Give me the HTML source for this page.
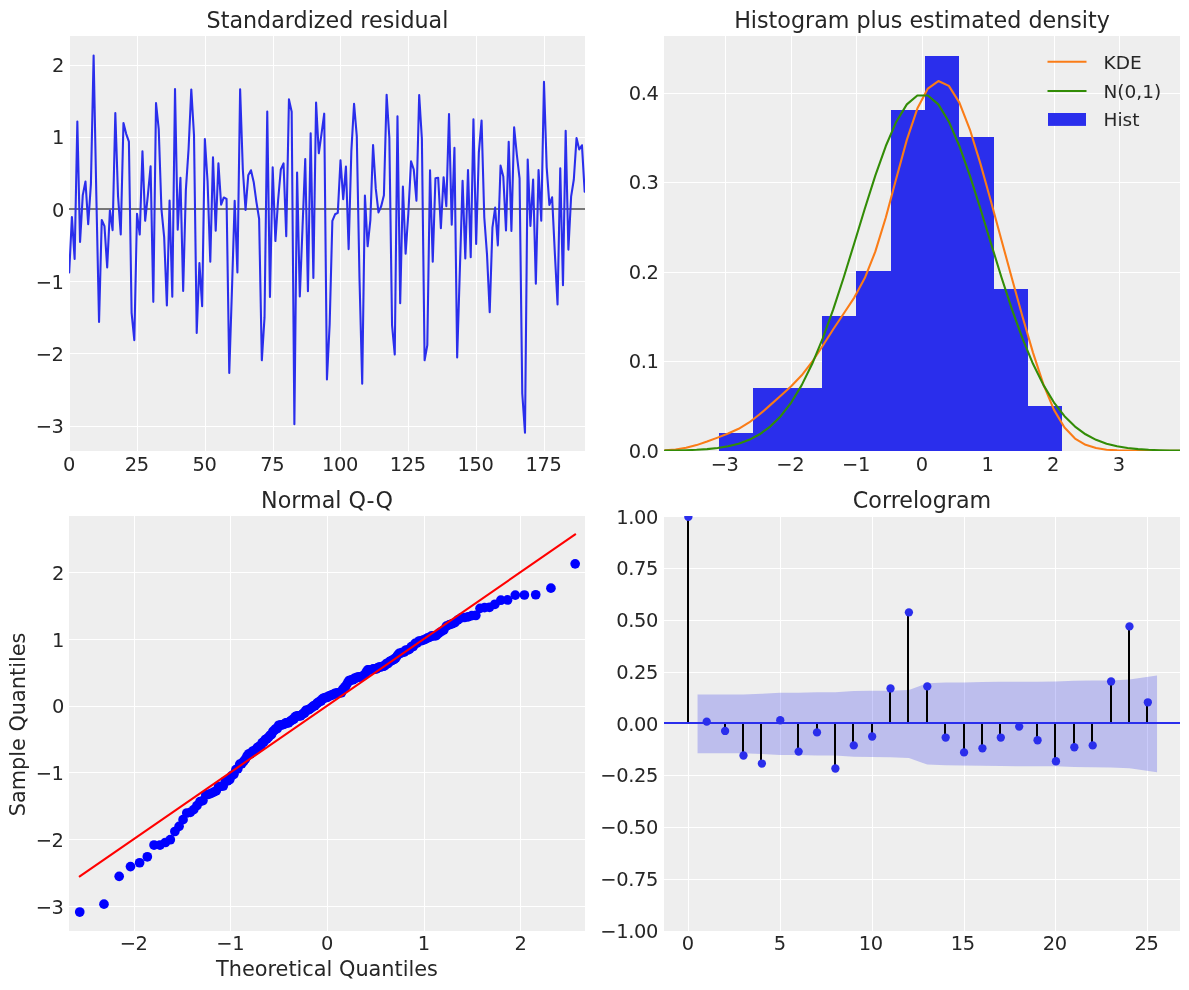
<!DOCTYPE html>
<html><head><meta charset="utf-8"><title>Diagnostics</title>
<style>html,body{margin:0;padding:0;background:#fff}svg{display:block}</style>
</head><body>
<svg width="1189" height="990" viewBox="0 0 1189 990" font-family='"DejaVu Sans", "Liberation Sans", sans-serif' fill="#262626">
<rect width="1189" height="990" fill="#fff"/>
<defs>
<clipPath id="c1"><rect x="69" y="36" width="516" height="415"/></clipPath>
<clipPath id="c2"><rect x="664" y="36" width="516" height="415"/></clipPath>
<clipPath id="c3"><rect x="69" y="516" width="516" height="415"/></clipPath>
<clipPath id="c4"><rect x="664" y="516" width="516" height="415"/></clipPath>
</defs>
<rect x="70" y="36" width="515.00" height="415.00" fill="#eeeeee"/>
<text x="68.90" y="471.30" text-anchor="middle" font-size="19.44" letter-spacing="-0.36">0</text>
<rect x="137" y="36" width="1" height="415.00" fill="#fff"/>
<text x="136.69" y="471.30" text-anchor="middle" font-size="19.44" letter-spacing="-0.36">25</text>
<rect x="205" y="36" width="1" height="415.00" fill="#fff"/>
<text x="204.47" y="471.30" text-anchor="middle" font-size="19.44" letter-spacing="-0.36">50</text>
<rect x="273" y="36" width="1" height="415.00" fill="#fff"/>
<text x="272.26" y="471.30" text-anchor="middle" font-size="19.44" letter-spacing="-0.36">75</text>
<rect x="340" y="36" width="1" height="415.00" fill="#fff"/>
<text x="340.05" y="471.30" text-anchor="middle" font-size="19.44" letter-spacing="-0.36">100</text>
<rect x="408" y="36" width="1" height="415.00" fill="#fff"/>
<text x="407.84" y="471.30" text-anchor="middle" font-size="19.44" letter-spacing="-0.36">125</text>
<rect x="476" y="36" width="1" height="415.00" fill="#fff"/>
<text x="475.63" y="471.30" text-anchor="middle" font-size="19.44" letter-spacing="-0.36">150</text>
<rect x="544" y="36" width="1" height="415.00" fill="#fff"/>
<text x="543.41" y="471.30" text-anchor="middle" font-size="19.44" letter-spacing="-0.36">175</text>
<rect x="70" y="426" width="515.00" height="1" fill="#fff"/>
<text x="63.60" y="433.14" text-anchor="end" font-size="19.44" letter-spacing="-0.36">−3</text>
<rect x="70" y="353" width="515.00" height="1" fill="#fff"/>
<text x="63.60" y="360.96" text-anchor="end" font-size="19.44" letter-spacing="-0.36">−2</text>
<rect x="70" y="281" width="515.00" height="1" fill="#fff"/>
<text x="63.60" y="288.78" text-anchor="end" font-size="19.44" letter-spacing="-0.36">−1</text>
<rect x="70" y="209" width="515.00" height="1" fill="#fff"/>
<text x="64.10" y="216.60" text-anchor="end" font-size="19.44" letter-spacing="-0.36">0</text>
<rect x="70" y="137" width="515.00" height="1" fill="#fff"/>
<text x="64.10" y="144.42" text-anchor="end" font-size="19.44" letter-spacing="-0.36">1</text>
<rect x="70" y="65" width="515.00" height="1" fill="#fff"/>
<text x="64.10" y="72.24" text-anchor="end" font-size="19.44" letter-spacing="-0.36">2</text>
<g clip-path="url(#c1)">
<rect x="69" y="208" width="516" height="2" fill="#777777"/>
<path d="M69.20,272.40 L71.91,217.03 L74.63,259.04 L77.34,121.61 L80.05,241.86 L82.77,195.16 L85.48,181.45 L88.19,224.18 L90.90,184.19 L93.62,55.64 L96.33,195.16 L99.04,322.06 L101.76,219.99 L104.47,226.13 L107.18,267.49 L109.90,210.47 L112.61,230.10 L115.32,113.02 L118.03,195.89 L120.75,234.50 L123.46,122.98 L126.17,133.81 L128.89,141.53 L131.60,312.82 L134.31,340.10 L137.03,213.86 L139.74,234.50 L142.45,151.28 L145.16,220.79 L147.88,195.16 L150.59,166.29 L153.30,301.85 L156.02,102.99 L158.73,129.12 L161.44,209.17 L164.16,237.03 L166.87,305.46 L169.58,200.43 L172.29,296.79 L175.01,89.06 L177.72,229.67 L180.43,177.77 L183.15,291.02 L185.86,190.11 L188.57,148.97 L191.29,89.42 L194.00,135.25 L196.71,332.88 L199.42,263.16 L202.14,306.18 L204.85,139.08 L207.56,181.23 L210.28,261.71 L212.99,157.20 L215.70,230.82 L218.42,163.33 L221.13,204.62 L223.84,197.47 L226.55,198.85 L229.27,373.02 L231.98,289.00 L234.69,200.87 L237.41,272.47 L240.12,89.35 L242.83,169.47 L245.55,209.89 L248.26,175.31 L250.97,170.26 L253.68,181.96 L256.40,201.80 L259.11,218.77 L261.82,360.31 L264.54,317.15 L267.25,111.44 L269.96,297.08 L272.68,167.30 L275.39,241.07 L278.10,200.22 L280.81,169.47 L283.53,163.33 L286.24,236.23 L288.95,99.38 L291.67,111.80 L294.38,424.19 L297.09,172.43 L299.81,296.50 L302.52,227.64 L305.23,158.93 L307.94,291.16 L310.66,133.23 L313.37,277.88 L316.08,102.63 L318.80,153.30 L321.51,133.81 L324.22,113.67 L326.94,379.44 L329.65,324.37 L332.36,220.93 L335.07,214.29 L337.79,212.85 L340.50,160.37 L343.21,199.13 L345.93,166.58 L348.64,249.15 L351.35,151.13 L354.06,103.78 L356.78,136.12 L359.49,278.17 L362.20,383.63 L364.92,195.60 L367.63,246.27 L370.34,220.43 L373.06,145.00 L375.77,188.67 L378.48,212.42 L381.19,206.21 L383.91,195.16 L386.62,94.69 L389.33,137.56 L392.05,325.09 L394.76,354.54 L397.47,116.27 L400.19,303.15 L402.90,186.43 L405.61,253.63 L408.32,213.57 L411.04,161.38 L413.75,169.47 L416.46,200.65 L419.18,94.98 L421.89,139.01 L424.60,360.31 L427.32,345.08 L430.03,170.26 L432.74,261.71 L435.45,178.27 L438.17,177.77 L440.88,228.29 L443.59,177.19 L446.31,206.21 L449.02,114.11 L451.73,224.61 L454.45,147.89 L457.16,357.57 L459.87,269.51 L462.58,180.87 L465.30,258.47 L468.01,169.97 L470.72,257.31 L473.44,119.23 L476.15,244.03 L478.86,152.29 L481.58,120.46 L484.29,217.54 L487.00,254.35 L489.71,312.31 L492.43,227.64 L495.14,207.58 L497.85,245.40 L500.57,165.64 L503.28,176.40 L505.99,230.39 L508.71,141.68 L511.42,230.89 L514.13,127.31 L516.85,154.74 L519.56,178.42 L522.27,393.51 L524.98,432.71 L527.70,159.43 L530.41,225.84 L533.12,179.50 L535.84,283.80 L538.55,170.12 L541.26,220.79 L543.98,81.91 L546.69,167.37 L549.40,204.84 L552.11,197.26 L554.83,252.91 L557.54,304.44 L560.25,168.17 L562.97,285.24 L565.68,130.78 L568.39,249.59 L571.11,196.68 L573.82,179.50 L576.53,138.07 L579.24,149.55 L581.96,145.22 L584.67,191.63" fill="none" stroke="#2a2eec" stroke-width="2.08" stroke-linejoin="round" stroke-linecap="round" />
</g>
<text x="327.50" y="27.50" text-anchor="middle" font-size="22.22" >Standardized residual</text>
<rect x="664" y="36" width="516.00" height="415.00" fill="#eeeeee"/>
<rect x="725" y="36" width="1" height="415.00" fill="#fff"/>
<text x="724.60" y="471.30" text-anchor="middle" font-size="19.44" letter-spacing="-0.36">−3</text>
<rect x="791" y="36" width="1" height="415.00" fill="#fff"/>
<text x="790.30" y="471.30" text-anchor="middle" font-size="19.44" letter-spacing="-0.36">−2</text>
<rect x="856" y="36" width="1" height="415.00" fill="#fff"/>
<text x="856.00" y="471.30" text-anchor="middle" font-size="19.44" letter-spacing="-0.36">−1</text>
<rect x="922" y="36" width="1" height="415.00" fill="#fff"/>
<text x="921.70" y="471.30" text-anchor="middle" font-size="19.44" letter-spacing="-0.36">0</text>
<rect x="988" y="36" width="1" height="415.00" fill="#fff"/>
<text x="987.40" y="471.30" text-anchor="middle" font-size="19.44" letter-spacing="-0.36">1</text>
<rect x="1054" y="36" width="1" height="415.00" fill="#fff"/>
<text x="1053.10" y="471.30" text-anchor="middle" font-size="19.44" letter-spacing="-0.36">2</text>
<rect x="1119" y="36" width="1" height="415.00" fill="#fff"/>
<text x="1118.80" y="471.30" text-anchor="middle" font-size="19.44" letter-spacing="-0.36">3</text>
<text x="658.50" y="457.50" text-anchor="end" font-size="19.44" letter-spacing="-0.36">0.0</text>
<rect x="664" y="361" width="516.00" height="1" fill="#fff"/>
<text x="658.50" y="368.15" text-anchor="end" font-size="19.44" letter-spacing="-0.36">0.1</text>
<rect x="664" y="272" width="516.00" height="1" fill="#fff"/>
<text x="658.50" y="278.80" text-anchor="end" font-size="19.44" letter-spacing="-0.36">0.2</text>
<rect x="664" y="182" width="516.00" height="1" fill="#fff"/>
<text x="658.50" y="189.45" text-anchor="end" font-size="19.44" letter-spacing="-0.36">0.3</text>
<rect x="664" y="93" width="516.00" height="1" fill="#fff"/>
<text x="658.50" y="100.10" text-anchor="end" font-size="19.44" letter-spacing="-0.36">0.4</text>
<g clip-path="url(#c2)">
<path d="M719,451 L719,433 L753,433 L753,388 L788,388 L788,388 L822,388 L822,316 L856,316 L856,271 L891,271 L891,110 L925,110 L925,56 L959,56 L959,137 L994,137 L994,289 L1028,289 L1028,406 L1062,406 L1062,451 Z" fill="#2a2eec" shape-rendering="crispEdges"/>
<path d="M665.06,450.31 L675.57,449.50 L686.08,447.84 L696.59,445.11 L707.10,441.54 L717.62,437.62 L728.13,433.56 L738.64,428.79 L749.15,422.45 L759.66,414.30 L770.18,405.12 L780.69,395.81 L791.20,386.29 L801.71,375.33 L812.22,361.73 L822.74,345.78 L833.25,329.26 L843.76,313.53 L854.27,297.57 L864.78,278.08 L875.30,251.68 L885.81,217.48 L896.32,178.28 L906.83,139.89 L917.34,108.60 L927.86,88.55 L938.37,81.04 L948.88,85.92 L959.39,102.59 L969.90,129.52 L980.42,163.64 L990.93,201.31 L1001.44,239.93 L1011.95,278.47 L1022.46,316.45 L1032.98,352.62 L1043.49,384.57 L1054.00,409.85 L1064.51,427.53 L1075.02,438.53 L1085.54,444.78 L1096.05,448.08 L1106.56,449.69 L1117.07,450.39 L1127.58,450.64 L1138.10,450.72 L1148.61,450.74 L1159.12,450.75 L1169.63,450.75 L1180.14,450.75" fill="none" stroke="#fa7c17" stroke-width="2.08" stroke-linejoin="round" stroke-linecap="round" />
<path d="M665.06,450.59 L675.57,450.45 L686.08,450.20 L696.59,449.79 L707.10,449.11 L717.62,448.01 L728.13,446.29 L738.64,443.68 L749.15,439.82 L759.66,434.29 L770.18,426.58 L780.69,416.17 L791.20,402.51 L801.71,385.16 L812.22,363.83 L822.74,338.47 L833.25,309.38 L843.76,277.24 L854.27,243.19 L864.78,208.73 L875.30,175.68 L885.81,146.03 L896.32,121.70 L906.83,104.41 L917.34,95.43 L927.86,95.43 L938.37,104.41 L948.88,121.70 L959.39,146.03 L969.90,175.68 L980.42,208.73 L990.93,243.19 L1001.44,277.24 L1011.95,309.38 L1022.46,338.47 L1032.98,363.83 L1043.49,385.16 L1054.00,402.51 L1064.51,416.17 L1075.02,426.58 L1085.54,434.29 L1096.05,439.82 L1106.56,443.68 L1117.07,446.29 L1127.58,448.01 L1138.10,449.11 L1148.61,449.79 L1159.12,450.20 L1169.63,450.45 L1180.14,450.59" fill="none" stroke="#328c06" stroke-width="2.08" stroke-linejoin="round" stroke-linecap="round" />
</g>
<line x1="1047.5" x2="1086.5" y1="61.8" y2="61.8" stroke="#fa7c17" stroke-width="2.08"/>
<line x1="1047.5" x2="1086.5" y1="91" y2="91" stroke="#328c06" stroke-width="2.08"/>
<rect x="1048" y="113" width="38" height="12.9" fill="#2a2eec"/>
<text x="1103.50" y="68.60" text-anchor="start" font-size="18.5" >KDE</text>
<text x="1103.50" y="97.90" text-anchor="start" font-size="18.5" >N(0,1)</text>
<text x="1103.50" y="125.70" text-anchor="start" font-size="18.5" >Hist</text>
<text x="922.00" y="27.50" text-anchor="middle" font-size="22.22" >Histogram plus estimated density</text>
<rect x="69" y="516" width="516.00" height="415.00" fill="#eeeeee"/>
<rect x="134" y="516" width="1" height="415.00" fill="#fff"/>
<text x="133.60" y="950.20" text-anchor="middle" font-size="19.44" letter-spacing="-0.36">−2</text>
<rect x="230" y="516" width="1" height="415.00" fill="#fff"/>
<text x="230.30" y="950.20" text-anchor="middle" font-size="19.44" letter-spacing="-0.36">−1</text>
<rect x="327" y="516" width="1" height="415.00" fill="#fff"/>
<text x="327.00" y="950.20" text-anchor="middle" font-size="19.44" letter-spacing="-0.36">0</text>
<rect x="424" y="516" width="1" height="415.00" fill="#fff"/>
<text x="423.70" y="950.20" text-anchor="middle" font-size="19.44" letter-spacing="-0.36">1</text>
<rect x="520" y="516" width="1" height="415.00" fill="#fff"/>
<text x="520.40" y="950.20" text-anchor="middle" font-size="19.44" letter-spacing="-0.36">2</text>
<rect x="69" y="906" width="516.00" height="1" fill="#fff"/>
<text x="63.60" y="913.50" text-anchor="end" font-size="19.44" letter-spacing="-0.36">−3</text>
<rect x="69" y="839" width="516.00" height="1" fill="#fff"/>
<text x="63.60" y="846.70" text-anchor="end" font-size="19.44" letter-spacing="-0.36">−2</text>
<rect x="69" y="772" width="516.00" height="1" fill="#fff"/>
<text x="63.60" y="779.90" text-anchor="end" font-size="19.44" letter-spacing="-0.36">−1</text>
<rect x="69" y="706" width="516.00" height="1" fill="#fff"/>
<text x="64.10" y="713.10" text-anchor="end" font-size="19.44" letter-spacing="-0.36">0</text>
<rect x="69" y="639" width="516.00" height="1" fill="#fff"/>
<text x="64.10" y="647.10" text-anchor="end" font-size="19.44" letter-spacing="-0.36">1</text>
<rect x="69" y="572" width="516.00" height="1" fill="#fff"/>
<text x="64.10" y="579.50" text-anchor="end" font-size="19.44" letter-spacing="-0.36">2</text>
<g clip-path="url(#c3)">
<circle cx="79.74" cy="912.04" r="4.85" fill="#0000ff"/>
<circle cx="103.98" cy="904.16" r="4.85" fill="#0000ff"/>
<circle cx="119.17" cy="876.31" r="4.85" fill="#0000ff"/>
<circle cx="130.49" cy="866.62" r="4.85" fill="#0000ff"/>
<circle cx="139.62" cy="862.75" r="4.85" fill="#0000ff"/>
<circle cx="147.32" cy="856.80" r="4.85" fill="#0000ff"/>
<circle cx="154.03" cy="845.04" r="4.85" fill="#0000ff"/>
<circle cx="160.00" cy="845.04" r="4.85" fill="#0000ff"/>
<circle cx="165.39" cy="842.51" r="4.85" fill="#0000ff"/>
<circle cx="170.31" cy="839.70" r="4.85" fill="#0000ff"/>
<circle cx="174.86" cy="831.48" r="4.85" fill="#0000ff"/>
<circle cx="179.10" cy="826.34" r="4.85" fill="#0000ff"/>
<circle cx="183.07" cy="819.66" r="4.85" fill="#0000ff"/>
<circle cx="186.81" cy="812.98" r="4.85" fill="#0000ff"/>
<circle cx="190.35" cy="812.31" r="4.85" fill="#0000ff"/>
<circle cx="193.71" cy="809.64" r="4.85" fill="#0000ff"/>
<circle cx="196.93" cy="805.63" r="4.85" fill="#0000ff"/>
<circle cx="200.00" cy="801.62" r="4.85" fill="#0000ff"/>
<circle cx="202.95" cy="800.62" r="4.85" fill="#0000ff"/>
<circle cx="205.79" cy="794.94" r="4.85" fill="#0000ff"/>
<circle cx="208.52" cy="794.28" r="4.85" fill="#0000ff"/>
<circle cx="211.17" cy="793.34" r="4.85" fill="#0000ff"/>
<circle cx="213.73" cy="792.14" r="4.85" fill="#0000ff"/>
<circle cx="216.21" cy="790.94" r="4.85" fill="#0000ff"/>
<circle cx="218.62" cy="786.53" r="4.85" fill="#0000ff"/>
<circle cx="220.97" cy="786.26" r="4.85" fill="#0000ff"/>
<circle cx="223.25" cy="785.99" r="4.85" fill="#0000ff"/>
<circle cx="225.48" cy="781.05" r="4.85" fill="#0000ff"/>
<circle cx="227.66" cy="780.92" r="4.85" fill="#0000ff"/>
<circle cx="229.78" cy="779.58" r="4.85" fill="#0000ff"/>
<circle cx="231.86" cy="775.57" r="4.85" fill="#0000ff"/>
<circle cx="233.90" cy="774.24" r="4.85" fill="#0000ff"/>
<circle cx="235.90" cy="769.56" r="4.85" fill="#0000ff"/>
<circle cx="237.85" cy="768.76" r="4.85" fill="#0000ff"/>
<circle cx="239.78" cy="764.22" r="4.85" fill="#0000ff"/>
<circle cx="241.66" cy="763.75" r="4.85" fill="#0000ff"/>
<circle cx="243.52" cy="761.54" r="4.85" fill="#0000ff"/>
<circle cx="245.34" cy="759.14" r="4.85" fill="#0000ff"/>
<circle cx="247.14" cy="755.87" r="4.85" fill="#0000ff"/>
<circle cx="248.91" cy="753.80" r="4.85" fill="#0000ff"/>
<circle cx="250.65" cy="753.80" r="4.85" fill="#0000ff"/>
<circle cx="252.37" cy="751.32" r="4.85" fill="#0000ff"/>
<circle cx="254.07" cy="750.79" r="4.85" fill="#0000ff"/>
<circle cx="255.74" cy="749.72" r="4.85" fill="#0000ff"/>
<circle cx="257.39" cy="747.52" r="4.85" fill="#0000ff"/>
<circle cx="259.02" cy="746.31" r="4.85" fill="#0000ff"/>
<circle cx="260.63" cy="746.18" r="4.85" fill="#0000ff"/>
<circle cx="262.23" cy="742.57" r="4.85" fill="#0000ff"/>
<circle cx="263.80" cy="742.17" r="4.85" fill="#0000ff"/>
<circle cx="265.36" cy="739.50" r="4.85" fill="#0000ff"/>
<circle cx="266.91" cy="738.70" r="4.85" fill="#0000ff"/>
<circle cx="268.43" cy="737.43" r="4.85" fill="#0000ff"/>
<circle cx="269.95" cy="735.43" r="4.85" fill="#0000ff"/>
<circle cx="271.45" cy="734.69" r="4.85" fill="#0000ff"/>
<circle cx="272.93" cy="731.48" r="4.85" fill="#0000ff"/>
<circle cx="274.41" cy="730.21" r="4.85" fill="#0000ff"/>
<circle cx="275.87" cy="728.61" r="4.85" fill="#0000ff"/>
<circle cx="277.32" cy="728.61" r="4.85" fill="#0000ff"/>
<circle cx="278.76" cy="725.27" r="4.85" fill="#0000ff"/>
<circle cx="280.19" cy="725.20" r="4.85" fill="#0000ff"/>
<circle cx="281.60" cy="724.80" r="4.85" fill="#0000ff"/>
<circle cx="283.01" cy="724.54" r="4.85" fill="#0000ff"/>
<circle cx="284.41" cy="724.14" r="4.85" fill="#0000ff"/>
<circle cx="285.80" cy="722.87" r="4.85" fill="#0000ff"/>
<circle cx="287.18" cy="722.80" r="4.85" fill="#0000ff"/>
<circle cx="288.55" cy="722.80" r="4.85" fill="#0000ff"/>
<circle cx="289.92" cy="721.40" r="4.85" fill="#0000ff"/>
<circle cx="291.27" cy="720.60" r="4.85" fill="#0000ff"/>
<circle cx="292.63" cy="719.46" r="4.85" fill="#0000ff"/>
<circle cx="293.97" cy="719.06" r="4.85" fill="#0000ff"/>
<circle cx="295.31" cy="716.59" r="4.85" fill="#0000ff"/>
<circle cx="296.64" cy="716.12" r="4.85" fill="#0000ff"/>
<circle cx="297.96" cy="715.92" r="4.85" fill="#0000ff"/>
<circle cx="299.28" cy="715.92" r="4.85" fill="#0000ff"/>
<circle cx="300.60" cy="715.92" r="4.85" fill="#0000ff"/>
<circle cx="301.91" cy="714.58" r="4.85" fill="#0000ff"/>
<circle cx="303.21" cy="713.45" r="4.85" fill="#0000ff"/>
<circle cx="304.51" cy="713.18" r="4.85" fill="#0000ff"/>
<circle cx="305.81" cy="710.44" r="4.85" fill="#0000ff"/>
<circle cx="307.10" cy="710.24" r="4.85" fill="#0000ff"/>
<circle cx="308.39" cy="709.77" r="4.85" fill="#0000ff"/>
<circle cx="309.68" cy="709.11" r="4.85" fill="#0000ff"/>
<circle cx="310.96" cy="708.17" r="4.85" fill="#0000ff"/>
<circle cx="312.24" cy="707.10" r="4.85" fill="#0000ff"/>
<circle cx="313.51" cy="705.83" r="4.85" fill="#0000ff"/>
<circle cx="314.79" cy="705.70" r="4.85" fill="#0000ff"/>
<circle cx="316.06" cy="704.43" r="4.85" fill="#0000ff"/>
<circle cx="317.33" cy="702.96" r="4.85" fill="#0000ff"/>
<circle cx="318.60" cy="702.43" r="4.85" fill="#0000ff"/>
<circle cx="319.87" cy="701.16" r="4.85" fill="#0000ff"/>
<circle cx="321.13" cy="700.96" r="4.85" fill="#0000ff"/>
<circle cx="322.40" cy="698.89" r="4.85" fill="#0000ff"/>
<circle cx="323.66" cy="698.22" r="4.85" fill="#0000ff"/>
<circle cx="324.92" cy="697.82" r="4.85" fill="#0000ff"/>
<circle cx="326.19" cy="697.42" r="4.85" fill="#0000ff"/>
<circle cx="327.45" cy="697.28" r="4.85" fill="#0000ff"/>
<circle cx="328.71" cy="696.15" r="4.85" fill="#0000ff"/>
<circle cx="329.98" cy="695.88" r="4.85" fill="#0000ff"/>
<circle cx="331.24" cy="695.08" r="4.85" fill="#0000ff"/>
<circle cx="332.50" cy="694.88" r="4.85" fill="#0000ff"/>
<circle cx="333.77" cy="694.14" r="4.85" fill="#0000ff"/>
<circle cx="335.03" cy="693.41" r="4.85" fill="#0000ff"/>
<circle cx="336.30" cy="693.34" r="4.85" fill="#0000ff"/>
<circle cx="337.57" cy="692.74" r="4.85" fill="#0000ff"/>
<circle cx="338.84" cy="692.74" r="4.85" fill="#0000ff"/>
<circle cx="340.11" cy="692.74" r="4.85" fill="#0000ff"/>
<circle cx="341.39" cy="692.74" r="4.85" fill="#0000ff"/>
<circle cx="342.66" cy="689.47" r="4.85" fill="#0000ff"/>
<circle cx="343.94" cy="688.06" r="4.85" fill="#0000ff"/>
<circle cx="345.22" cy="686.73" r="4.85" fill="#0000ff"/>
<circle cx="346.51" cy="684.86" r="4.85" fill="#0000ff"/>
<circle cx="347.80" cy="682.59" r="4.85" fill="#0000ff"/>
<circle cx="349.09" cy="680.52" r="4.85" fill="#0000ff"/>
<circle cx="350.39" cy="680.25" r="4.85" fill="#0000ff"/>
<circle cx="351.69" cy="679.85" r="4.85" fill="#0000ff"/>
<circle cx="352.99" cy="679.71" r="4.85" fill="#0000ff"/>
<circle cx="354.30" cy="678.44" r="4.85" fill="#0000ff"/>
<circle cx="355.62" cy="678.24" r="4.85" fill="#0000ff"/>
<circle cx="356.94" cy="677.24" r="4.85" fill="#0000ff"/>
<circle cx="358.26" cy="677.11" r="4.85" fill="#0000ff"/>
<circle cx="359.59" cy="676.84" r="4.85" fill="#0000ff"/>
<circle cx="360.93" cy="676.84" r="4.85" fill="#0000ff"/>
<circle cx="362.27" cy="676.31" r="4.85" fill="#0000ff"/>
<circle cx="363.63" cy="675.37" r="4.85" fill="#0000ff"/>
<circle cx="364.98" cy="674.37" r="4.85" fill="#0000ff"/>
<circle cx="366.35" cy="671.90" r="4.85" fill="#0000ff"/>
<circle cx="367.72" cy="669.89" r="4.85" fill="#0000ff"/>
<circle cx="369.10" cy="669.89" r="4.85" fill="#0000ff"/>
<circle cx="370.49" cy="669.76" r="4.85" fill="#0000ff"/>
<circle cx="371.89" cy="669.63" r="4.85" fill="#0000ff"/>
<circle cx="373.30" cy="668.96" r="4.85" fill="#0000ff"/>
<circle cx="374.71" cy="668.96" r="4.85" fill="#0000ff"/>
<circle cx="376.14" cy="668.96" r="4.85" fill="#0000ff"/>
<circle cx="377.58" cy="667.96" r="4.85" fill="#0000ff"/>
<circle cx="379.03" cy="667.16" r="4.85" fill="#0000ff"/>
<circle cx="380.49" cy="667.02" r="4.85" fill="#0000ff"/>
<circle cx="381.97" cy="666.49" r="4.85" fill="#0000ff"/>
<circle cx="383.45" cy="666.22" r="4.85" fill="#0000ff"/>
<circle cx="384.95" cy="665.62" r="4.85" fill="#0000ff"/>
<circle cx="386.47" cy="663.48" r="4.85" fill="#0000ff"/>
<circle cx="387.99" cy="663.48" r="4.85" fill="#0000ff"/>
<circle cx="389.54" cy="661.68" r="4.85" fill="#0000ff"/>
<circle cx="391.10" cy="660.74" r="4.85" fill="#0000ff"/>
<circle cx="392.67" cy="659.87" r="4.85" fill="#0000ff"/>
<circle cx="394.27" cy="659.41" r="4.85" fill="#0000ff"/>
<circle cx="395.88" cy="657.80" r="4.85" fill="#0000ff"/>
<circle cx="397.51" cy="655.33" r="4.85" fill="#0000ff"/>
<circle cx="399.16" cy="653.46" r="4.85" fill="#0000ff"/>
<circle cx="400.83" cy="653.06" r="4.85" fill="#0000ff"/>
<circle cx="402.53" cy="652.33" r="4.85" fill="#0000ff"/>
<circle cx="404.25" cy="651.99" r="4.85" fill="#0000ff"/>
<circle cx="405.99" cy="649.99" r="4.85" fill="#0000ff"/>
<circle cx="407.76" cy="649.99" r="4.85" fill="#0000ff"/>
<circle cx="409.56" cy="649.19" r="4.85" fill="#0000ff"/>
<circle cx="411.38" cy="646.71" r="4.85" fill="#0000ff"/>
<circle cx="413.24" cy="646.51" r="4.85" fill="#0000ff"/>
<circle cx="415.12" cy="643.44" r="4.85" fill="#0000ff"/>
<circle cx="417.05" cy="643.11" r="4.85" fill="#0000ff"/>
<circle cx="419.00" cy="641.04" r="4.85" fill="#0000ff"/>
<circle cx="421.00" cy="640.77" r="4.85" fill="#0000ff"/>
<circle cx="423.04" cy="640.10" r="4.85" fill="#0000ff"/>
<circle cx="425.12" cy="639.43" r="4.85" fill="#0000ff"/>
<circle cx="427.24" cy="638.10" r="4.85" fill="#0000ff"/>
<circle cx="429.42" cy="637.30" r="4.85" fill="#0000ff"/>
<circle cx="431.65" cy="635.96" r="4.85" fill="#0000ff"/>
<circle cx="433.93" cy="635.96" r="4.85" fill="#0000ff"/>
<circle cx="436.28" cy="635.63" r="4.85" fill="#0000ff"/>
<circle cx="438.69" cy="633.35" r="4.85" fill="#0000ff"/>
<circle cx="441.17" cy="631.62" r="4.85" fill="#0000ff"/>
<circle cx="443.73" cy="630.15" r="4.85" fill="#0000ff"/>
<circle cx="446.38" cy="626.14" r="4.85" fill="#0000ff"/>
<circle cx="449.11" cy="624.87" r="4.85" fill="#0000ff"/>
<circle cx="451.95" cy="623.80" r="4.85" fill="#0000ff"/>
<circle cx="454.90" cy="622.67" r="4.85" fill="#0000ff"/>
<circle cx="457.97" cy="619.93" r="4.85" fill="#0000ff"/>
<circle cx="461.19" cy="617.92" r="4.85" fill="#0000ff"/>
<circle cx="464.55" cy="617.52" r="4.85" fill="#0000ff"/>
<circle cx="468.09" cy="616.92" r="4.85" fill="#0000ff"/>
<circle cx="471.83" cy="615.59" r="4.85" fill="#0000ff"/>
<circle cx="475.80" cy="615.45" r="4.85" fill="#0000ff"/>
<circle cx="480.04" cy="608.37" r="4.85" fill="#0000ff"/>
<circle cx="484.59" cy="607.64" r="4.85" fill="#0000ff"/>
<circle cx="489.51" cy="607.30" r="4.85" fill="#0000ff"/>
<circle cx="494.90" cy="604.30" r="4.85" fill="#0000ff"/>
<circle cx="500.87" cy="600.22" r="4.85" fill="#0000ff"/>
<circle cx="507.58" cy="599.95" r="4.85" fill="#0000ff"/>
<circle cx="515.28" cy="595.08" r="4.85" fill="#0000ff"/>
<circle cx="524.41" cy="595.01" r="4.85" fill="#0000ff"/>
<circle cx="535.73" cy="594.74" r="4.85" fill="#0000ff"/>
<circle cx="550.92" cy="588.13" r="4.85" fill="#0000ff"/>
<circle cx="575.16" cy="563.82" r="4.85" fill="#0000ff"/>
<path d="M79.74,876.46 L575.16,534.46" fill="none" stroke="#ff0000" stroke-width="2.08" stroke-linejoin="round" stroke-linecap="round" />
</g>
<text x="327.00" y="507.50" text-anchor="middle" font-size="22.22" >Normal Q-Q</text>
<text x="327.00" y="975.60" text-anchor="middle" font-size="20.83" >Theoretical Quantiles</text>
<text transform="translate(25.1,724.4) rotate(-90)" text-anchor="middle" font-size="20.83">Sample Quantiles</text>
<rect x="664" y="517" width="516.00" height="414.00" fill="#eeeeee"/>
<rect x="688" y="517" width="1" height="414.00" fill="#fff"/>
<text x="687.75" y="950.20" text-anchor="middle" font-size="19.44" letter-spacing="-0.36">0</text>
<rect x="780" y="517" width="1" height="414.00" fill="#fff"/>
<text x="779.65" y="950.20" text-anchor="middle" font-size="19.44" letter-spacing="-0.36">5</text>
<rect x="872" y="517" width="1" height="414.00" fill="#fff"/>
<text x="870.85" y="950.20" text-anchor="middle" font-size="19.44" letter-spacing="-0.36">10</text>
<rect x="964" y="517" width="1" height="414.00" fill="#fff"/>
<text x="962.75" y="950.20" text-anchor="middle" font-size="19.44" letter-spacing="-0.36">15</text>
<rect x="1055" y="517" width="1" height="414.00" fill="#fff"/>
<text x="1054.65" y="950.20" text-anchor="middle" font-size="19.44" letter-spacing="-0.36">20</text>
<rect x="1147" y="517" width="1" height="414.00" fill="#fff"/>
<text x="1146.55" y="950.20" text-anchor="middle" font-size="19.44" letter-spacing="-0.36">25</text>
<text x="658.00" y="937.70" text-anchor="end" font-size="19.44" letter-spacing="-0.36">−1.00</text>
<rect x="664" y="879" width="516.00" height="1" fill="#fff"/>
<text x="658.00" y="885.95" text-anchor="end" font-size="19.44" letter-spacing="-0.36">−0.75</text>
<rect x="664" y="827" width="516.00" height="1" fill="#fff"/>
<text x="658.00" y="834.20" text-anchor="end" font-size="19.44" letter-spacing="-0.36">−0.50</text>
<rect x="664" y="775" width="516.00" height="1" fill="#fff"/>
<text x="658.00" y="782.45" text-anchor="end" font-size="19.44" letter-spacing="-0.36">−0.25</text>
<rect x="664" y="723" width="516.00" height="1" fill="#fff"/>
<text x="658.00" y="730.70" text-anchor="end" font-size="19.44" letter-spacing="-0.36">0.00</text>
<rect x="664" y="672" width="516.00" height="1" fill="#fff"/>
<text x="658.00" y="678.95" text-anchor="end" font-size="19.44" letter-spacing="-0.36">0.25</text>
<rect x="664" y="620" width="516.00" height="1" fill="#fff"/>
<text x="658.00" y="627.20" text-anchor="end" font-size="19.44" letter-spacing="-0.36">0.50</text>
<rect x="664" y="568" width="516.00" height="1" fill="#fff"/>
<text x="658.00" y="575.45" text-anchor="end" font-size="19.44" letter-spacing="-0.36">0.75</text>
<text x="658.00" y="523.70" text-anchor="end" font-size="19.44" letter-spacing="-0.36">1.00</text>
<g clip-path="url(#c4)">
<path d="M697.54,694.54 L725.11,694.54 L743.49,694.51 L761.87,693.83 L780.25,692.80 L798.63,692.79 L817.01,692.30 L835.39,692.25 L853.77,691.01 L872.15,690.73 L890.53,690.63 L908.91,689.88 L927.29,683.19 L945.67,682.50 L964.05,682.41 L982.43,682.02 L1000.81,681.73 L1019.19,681.64 L1037.57,681.64 L1055.95,681.51 L1074.33,680.85 L1092.71,680.60 L1111.09,680.39 L1129.47,679.56 L1157.04,675.44 L1157.04,772.36 L1129.47,768.24 L1111.09,767.41 L1092.71,767.20 L1074.33,766.95 L1055.95,766.29 L1037.57,766.16 L1019.19,766.16 L1000.81,766.07 L982.43,765.78 L964.05,765.39 L945.67,765.30 L927.29,764.61 L908.91,757.92 L890.53,757.17 L872.15,757.07 L853.77,756.79 L835.39,755.55 L817.01,755.50 L798.63,755.01 L780.25,755.00 L761.87,753.97 L743.49,753.29 L725.11,753.26 L697.54,753.26 Z" fill="#2a2eec" fill-opacity="0.25"/>
<rect x="687" y="516.90" width="2" height="206.10" fill="#000"/>
<rect x="705" y="721.67" width="2" height="1.33" fill="#000"/>
<rect x="724" y="723.00" width="2" height="7.95" fill="#000"/>
<rect x="742" y="723.00" width="2" height="32.49" fill="#000"/>
<rect x="760" y="723.00" width="2" height="40.54" fill="#000"/>
<rect x="779" y="720.23" width="2" height="2.77" fill="#000"/>
<rect x="797" y="723.00" width="2" height="28.58" fill="#000"/>
<rect x="816" y="723.00" width="2" height="9.39" fill="#000"/>
<rect x="834" y="723.00" width="2" height="45.49" fill="#000"/>
<rect x="852" y="723.00" width="2" height="22.39" fill="#000"/>
<rect x="871" y="723.00" width="2" height="13.52" fill="#000"/>
<rect x="889" y="688.46" width="2" height="34.54" fill="#000"/>
<rect x="907" y="612.36" width="2" height="110.64" fill="#000"/>
<rect x="926" y="686.40" width="2" height="36.60" fill="#000"/>
<rect x="944" y="723.00" width="2" height="14.55" fill="#000"/>
<rect x="963" y="723.00" width="2" height="29.40" fill="#000"/>
<rect x="981" y="723.00" width="2" height="25.28" fill="#000"/>
<rect x="999" y="723.00" width="2" height="14.55" fill="#000"/>
<rect x="1018" y="723.00" width="2" height="3.62" fill="#000"/>
<rect x="1036" y="723.00" width="2" height="17.23" fill="#000"/>
<rect x="1054" y="723.00" width="2" height="38.27" fill="#000"/>
<rect x="1073" y="723.00" width="2" height="24.24" fill="#000"/>
<rect x="1091" y="723.00" width="2" height="22.39" fill="#000"/>
<rect x="1110" y="681.45" width="2" height="41.55" fill="#000"/>
<rect x="1128" y="626.38" width="2" height="96.62" fill="#000"/>
<rect x="1146" y="702.28" width="2" height="20.72" fill="#000"/>
<rect x="664" y="722" width="516" height="2" fill="#2a2eec"/>
<circle cx="688.35" cy="516.90" r="4.15" fill="#2a2eec"/>
<circle cx="706.73" cy="721.67" r="4.15" fill="#2a2eec"/>
<circle cx="725.11" cy="730.95" r="4.15" fill="#2a2eec"/>
<circle cx="743.49" cy="755.49" r="4.15" fill="#2a2eec"/>
<circle cx="761.87" cy="763.54" r="4.15" fill="#2a2eec"/>
<circle cx="780.25" cy="720.23" r="4.15" fill="#2a2eec"/>
<circle cx="798.63" cy="751.58" r="4.15" fill="#2a2eec"/>
<circle cx="817.01" cy="732.39" r="4.15" fill="#2a2eec"/>
<circle cx="835.39" cy="768.49" r="4.15" fill="#2a2eec"/>
<circle cx="853.77" cy="745.39" r="4.15" fill="#2a2eec"/>
<circle cx="872.15" cy="736.52" r="4.15" fill="#2a2eec"/>
<circle cx="890.53" cy="688.46" r="4.15" fill="#2a2eec"/>
<circle cx="908.91" cy="612.36" r="4.15" fill="#2a2eec"/>
<circle cx="927.29" cy="686.40" r="4.15" fill="#2a2eec"/>
<circle cx="945.67" cy="737.55" r="4.15" fill="#2a2eec"/>
<circle cx="964.05" cy="752.40" r="4.15" fill="#2a2eec"/>
<circle cx="982.43" cy="748.28" r="4.15" fill="#2a2eec"/>
<circle cx="1000.81" cy="737.55" r="4.15" fill="#2a2eec"/>
<circle cx="1019.19" cy="726.62" r="4.15" fill="#2a2eec"/>
<circle cx="1037.57" cy="740.23" r="4.15" fill="#2a2eec"/>
<circle cx="1055.95" cy="761.27" r="4.15" fill="#2a2eec"/>
<circle cx="1074.33" cy="747.24" r="4.15" fill="#2a2eec"/>
<circle cx="1092.71" cy="745.39" r="4.15" fill="#2a2eec"/>
<circle cx="1111.09" cy="681.45" r="4.15" fill="#2a2eec"/>
<circle cx="1129.47" cy="626.38" r="4.15" fill="#2a2eec"/>
<circle cx="1147.85" cy="702.28" r="4.15" fill="#2a2eec"/>
</g>
<text x="922.00" y="507.50" text-anchor="middle" font-size="22.22" >Correlogram</text>
</svg>
</body></html>
